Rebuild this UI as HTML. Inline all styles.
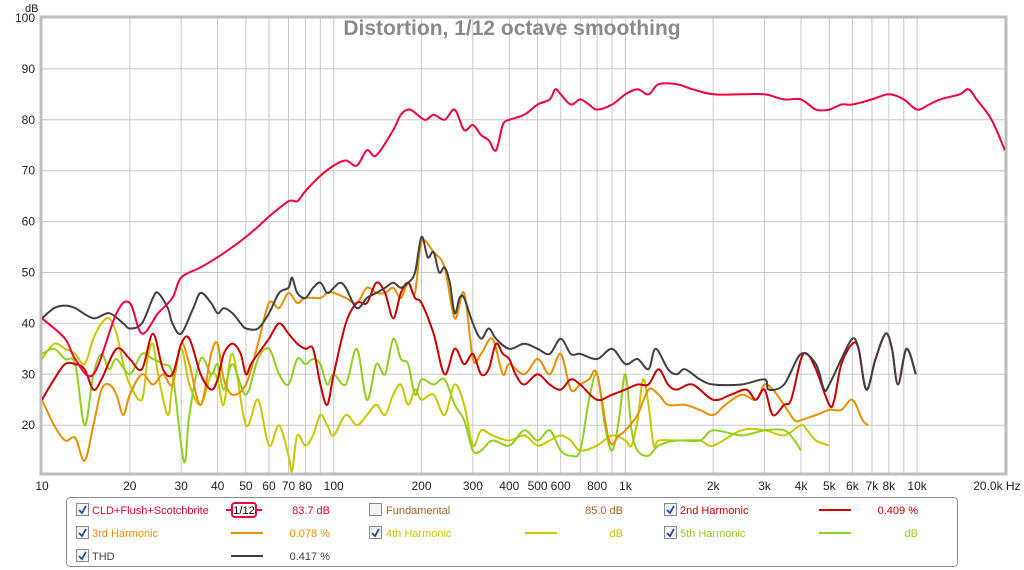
<!DOCTYPE html>
<html><head><meta charset="utf-8"><style>
body{margin:0;background:#fff;font-family:"Liberation Sans",sans-serif;}
#wrap{position:relative;width:1024px;height:570px;overflow:hidden;background:#fff}
svg{position:absolute;left:0;top:0}
</style></head><body>
<div id="wrap">
<svg id="chart" width="1024" height="570"></svg>
</div>
<script>
const fundF=[10,12,13,15,18,20,22,25,28,30,35,40,45,50,55,60,70,75,80,90,100,110,120,130,140,160,170,183,205,220,240,260,280,300,320,340,360,380,400,450,500,550,575,600,650,700,750,800,900,1000,1100,1200,1300,1500,1700,2000,2500,3000,3500,4000,4500,5000,5500,6000,7000,8000,9000,10000,11000,12000,14000,15000,16000,18000,20000];
const fundV=[41,37,33,30,42,44,38,42,45,49,51,53,55,57,59,61,64,64,66,69,71,72,71,74,73,78,81,82,80,81,80,82,78,79,77,76,74,79,80,81,83,84,86,85,83,84,83,82,83,85,86,85,87,87,86,85,85,85,84,84,82,82,83,83,84,85,84,82,83,84,85,86,84,80,74];
const thdF=[10,11,12,13,15,17,19,20,22,24,25,27,28,30,33,35,38,40,42,45,48,50,55,60,65,70,72,75,80,85,90,95,100,105,110,120,130,140,150,160,170,180,190,200,210,220,230,240,250,260,270,280,300,320,340,360,400,450,500,550,600,650,700,800,900,1000,1100,1200,1270,1400,1500,1600,1800,2000,2500,3000,3100,3500,4000,4500,4800,5000,5500,6000,6300,6700,7200,7800,8200,8600,9200,9900];
const thdV=[41,43,43.5,43,41,42,40,39,40,45,46,43,40,38,43,46,44,42,43,42,40,39,39,42,46,47,49,46,45,47,48,46,47,48,47,43,45,46,47,48,47,48,50,57,53,54,50,51,48,42,45,45,40,37,39,37,35,36,35,34,37,34,34,33,35,32,33,31,35,31,30,31,29,28,28,29,27,28,34,32,27,28,33,37,35,27,33,38,35,28,35,30];
const h2F=[10,11,12,13,14,15,16,18,20,22,24,26,28,30,32,35,38,40,42,45,48,50,52,55,60,65,70,75,80,85,90,95,100,110,120,130,140,150,160,170,180,190,200,220,240,260,280,300,320,340,360,380,400,420,450,500,550,600,650,700,800,900,1000,1100,1200,1300,1400,1500,1700,2000,2300,2600,2800,3000,3200,3500,3700,4000,4200,4500,5000,5200,5500,6000,6300,6700,7200,7800,8200,8600,9200,9900];
const h2V=[25,29,32,32,31,27,29,35,33,31,38,31,30,36,37,30,27,29,34,36,34,30,32,34,37,40,38,36,35,35,28,24,30,40,44,44,48,46,41,46,48,45,44,38,30,35,32,34,30,31,36,34,33,30,28,30,28,27,29,28,25,26,27,28,28,31,28,27,28,25,26,27,25,27,22,24,25,33,34,31,24,25,32,36,35,27,33,38,35,28,35,30];
const h3F=[10,11,12,13,14,15,16,17,18,19,20,22,24,26,28,30,32,35,38,40,42,45,50,55,60,65,70,75,80,90,95,100,110,120,130,140,150,160,170,180,190,200,220,240,260,280,300,320,350,380,400,450,500,550,600,650,700,750,800,880,950,1000,1100,1200,1300,1400,1600,1800,2000,2200,2500,2800,3000,3200,3500,3800,4000,4500,5000,5500,6000,6500,6800];
const h3V=[25,20,17,17.5,13,20,27,28,26,22,26,30,28,30,28,36,32,24,34,36,29,26,28,36,44,43,46,44,45,45,46,46,45,44,47,46,46,47,45,48,46,56,54,51,41,46,33,34,37,30,32,30,33,30,34,27,28,29,30,17,18,19,22,27,26,24,24,23,22,24,26,25,28,27,24,21,21,22,23,23,25,21,20];
const h4F=[10,11,12,13,14,15,16,17,18,19,20,22,23,24,25,27,28,30,32,35,38,40,42,45,50,55,60,65,70,72,75,80,85,90,95,100,110,120,130,140,150,160,170,180,190,200,220,240,260,280,300,320,350,400,450,500,550,600,650,700,800,900,1000,1050,1100,1150,1200,1250,1300,1500,1800,2000,2500,3000,3500,4000,4200,4500,5000];
const h4V=[33,36,35,34,32,37,40,41,38,32,28,25,33,36,30,22,28,35,28,24,30,29,24,34,20,25,16,20,14,11,18,16,18,22,20,18,22,20,22,24,22,26,28,24,27,25,26,22,28,24,16,19,18,17,18,16,17,18,17,15,16,18,17,16,21,29,24,16,17,17,17,16,19,19,18,20,19,17,16];
const h5F=[10,11,12,13,14,15,16,17,18,20,22,24,26,28,30,31,32,35,38,40,42,45,50,55,60,65,70,75,80,85,90,95,100,110,120,130,140,150,160,170,180,190,200,220,240,260,280,300,320,350,400,450,500,550,600,650,700,750,800,850,900,950,1000,1050,1100,1200,1300,1500,1800,2000,2500,3000,3500,3800,4000];
const h5V=[34,35,33,32,20,30,34,31,33,30,34,33,32,30,16,13,22,33,30,32,27,32,26,33,35,30,28,33,32,33,32,28,30,28,35,25,32,30,37,33,32,26,29,28,29,24,21,15,15,17,16,19,17,19,15,14,15,25,30,20,15,21,30,19,15,14,16,17,17,19,18,19,19,17,15];
const yTicks=[20,30,40,50,60,70,80,90,100];
const xTicks=[10,20,30,40,50,60,70,80,90,100,200,300,400,500,600,700,800,900,1000,2000,3000,4000,5000,6000,7000,8000,9000,10000,20000];
const xLabels={10:"10",20:"20",30:"30",40:"40",50:"50",60:"60",70:"70",80:"80",100:"100",200:"200",300:"300",400:"400",500:"500",600:"600",800:"800",1000:"1k",2000:"2k",3000:"3k",4000:"4k",5000:"5k",6000:"6k",7000:"7k",8000:"8k",10000:"10k",20000:"20.0k Hz"};

const L=42,R=1005,T=18,B=473;
const xs=f=>L+291.7*(Math.log10(f)-1);
const ys=v=>T+(100-v)*5.09;
const NS="http://www.w3.org/2000/svg";
const svg=document.getElementById('chart');
function mk(tag,attrs,parent){const e=document.createElementNS(NS,tag);for(const k in attrs)e.setAttribute(k,attrs[k]);(parent||svg).appendChild(e);return e;}

const clip=mk('clipPath',{id:'pc'});mk('rect',{x:L,y:T,width:R-L,height:B-T},clip);
const grid=mk('g',{});


yTicks.forEach(v=>{
  mk('line',{x1:L,x2:R,y1:ys(v),y2:ys(v),stroke:'#c8c8c8','stroke-width':1},grid);
  const t=mk('text',{x:35,y:ys(v)+4,'text-anchor':'end','font-size':12,fill:'#222'});
  
  
  t.textContent=v;
});
xTicks.forEach(f=>{
  mk('line',{x1:xs(f),x2:xs(f),y1:T,y2:B,stroke:'#c8c8c8','stroke-width':1},grid);
  if(xLabels[f]){const t=mk('text',{x:xs(f)+(f==20000?-8:0),y:490,'text-anchor':'middle','font-size':12,fill:'#222'});
  
  
  t.textContent=xLabels[f];}
});
const yt=mk('text',{x:25,y:12,'font-size':11,fill:'#222'});


yt.textContent='dB';
const fr=mk('rect',{x:L-1,y:T-1,width:R-L+2,height:B-T+2,fill:'none',stroke:'#bdbdbd','stroke-width':3});



const title=mk('text',{x:512,y:35,'text-anchor':'middle','font-size':21,'font-weight':'bold',fill:'#8a8a8a'});


title.textContent='Distortion, 1/12 octave smoothing';

function smoothPath(pts){
  let d='M'+pts[0][0].toFixed(1)+' '+pts[0][1].toFixed(1);
  for(let i=0;i<pts.length-1;i++){
    const p0=pts[i-1]||pts[i],p1=pts[i],p2=pts[i+1],p3=pts[i+2]||p2;
    const c1x=p1[0]+(p2[0]-p0[0])/6,c1y=p1[1]+(p2[1]-p0[1])/6;
    const c2x=p2[0]-(p3[0]-p1[0])/6,c2y=p2[1]-(p3[1]-p1[1])/6;
    d+=` C${c1x.toFixed(1)} ${c1y.toFixed(1)} ${c2x.toFixed(1)} ${c2y.toFixed(1)} ${p2[0].toFixed(1)} ${p2[1].toFixed(1)}`;
  }
  return d;
}
function series(F,V,color,name){
  const pts=F.map((f,i)=>[xs(f),ys(V[i])]);
  const p=mk('path',{d:smoothPath(pts),fill:'none',stroke:color,'stroke-width':2,'stroke-linejoin':'round','clip-path':'url(#pc)'});
  
  
}
series(h4F,h4V,'#c8c800','series-4th-harmonic');
series(h5F,h5V,'#90d020','series-5th-harmonic');
series(h3F,h3V,'#e89000','series-3rd-harmonic');
series(h2F,h2V,'#c80000','series-2nd-harmonic');
series(thdF,thdV,'#404040','series-thd');
series(fundF,fundV,'#f0003c','series-fundamental');

// legend
const lg=mk('g',{});


mk('rect',{x:66.5,y:497.5,width:891,height:69,rx:4,fill:'#fff',stroke:'#888'},lg);
function cb(x,y,checked){
  const g=mk('g',{},lg);
  
  
  mk('rect',{x:x+.5,y:y-6.5,width:12,height:12,fill:'#f4f4f4',stroke:'#888'},g);
  if(checked)mk('path',{d:`M${x+3} ${y} L${x+6} ${y+3} L${x+10} ${y-4}`,stroke:'#2a4a9a','stroke-width':1.8,fill:'none'},g);
}
function txt(x,y,s,color,anchor,name){const t=mk('text',{x:x,y:y+4,'font-size':11,fill:color,'text-anchor':anchor||'start'},lg);
  
  
  t.textContent=s;}
function ln(x,y,color){mk('line',{x1:x,x2:x+32,y1:y,y2:y,stroke:color,'stroke-width':2},lg);}
const r1=510,r2=533,r3=556;
cb(76,r1,true);txt(92,r1,'CLD+Flush+Scotchbrite','#e8003c','start','legend-label-fundamental');
mk('line',{x1:226,x2:262,y1:r1,y2:r1,stroke:'#f0003c','stroke-width':2},lg);
mk('rect',{x:232,y:r1-7,width:24,height:14,rx:3,fill:'#fff',stroke:'#f0003c','stroke-width':2},lg);
txt(244,r1,'1/12','#000','middle','legend-smoothing');
txt(330,r1,'83.7 dB','#e8003c','end','legend-value-fundamental');
cb(369,r1,false);txt(386,r1,'Fundamental','#a0602a','start','legend-label-fundamental-2');
txt(623,r1,'85.0 dB','#a0602a','end','legend-value-fundamental-2');
cb(664,r1,true);txt(680,r1,'2nd Harmonic','#c80000','start','legend-label-2nd');
ln(819,r1,'#c80000');txt(918,r1,'0.409 %','#c80000','end','legend-value-2nd');
cb(76,r2,true);txt(92,r2,'3rd Harmonic','#e89000','start','legend-label-3rd');
ln(231,r2,'#e89000');txt(330,r2,'0.078 %','#e89000','end','legend-value-3rd');
cb(369,r2,true);txt(386,r2,'4th Harmonic','#c8c800','start','legend-label-4th');
ln(525,r2,'#c8c800');txt(623,r2,'dB','#c8c800','end','legend-value-4th');
cb(664,r2,true);txt(680,r2,'5th Harmonic','#90d020','start','legend-label-5th');
ln(819,r2,'#90d020');txt(918,r2,'dB','#90d020','end','legend-value-5th');
cb(76,r3,true);txt(92,r3,'THD','#404040','start','legend-label-thd');
ln(231,r3,'#404040');txt(330,r3,'0.417 %','#404040','end','legend-value-thd');
</script>
</body></html>
